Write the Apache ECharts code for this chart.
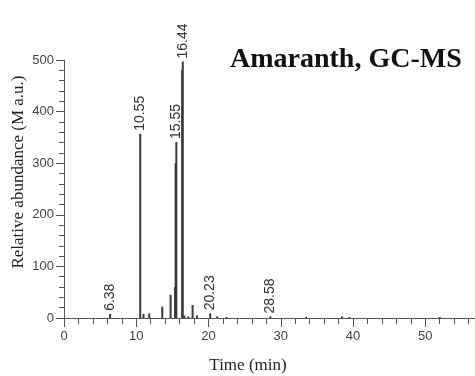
<!DOCTYPE html>
<html>
<head>
<meta charset="utf-8">
<script src="https://cdn.jsdelivr.net/npm/echarts@6/dist/echarts.min.js"></script>
<style>html,body{margin:0;padding:0;background:#fff}#c{width:475px;height:376px}</style>
</head>
<body>
<div id="c"></div>
<script>
// Labelled peaks: retention time (min) and abundance (M a.u.)
const labelledTimes = [6.38, 10.55, 15.55, 16.44, 20.23, 28.58];
const labelledHeights = [8, 357, 341, 497, 9, 3];
const labelledNames = ["6.38", "10.55", "15.55", "16.44", "20.23", "28.58"];
// Minor, unlabelled peaks
const minorTimes = [11.0, 11.8, 13.6, 14.75, 15.37, 15.45, 16.35, 16.65, 17.2, 17.8, 18.4, 21.2, 22.5, 33.5, 38.5, 39.5, 52.0];
const minorHeights = [8, 9, 22, 45, 60, 300, 480, 5, 3, 25, 5, 3, 2, 2, 3, 2, 2];
// Axis ticks
const xTicks = [0, 10, 20, 30, 40, 50, 60];
const yTicks = [0, 100, 200, 300, 400, 500];

const data = [];
for (let i = 0; i < minorTimes.length; i++) {
  data.push({ value: [minorTimes[i], minorHeights[i]], label: { show: false } });
}
for (let i = 0; i < labelledTimes.length; i++) {
  data.push({ value: [labelledTimes[i], labelledHeights[i]], name: labelledNames[i], label: { show: true } });
}

const chart = echarts.init(document.getElementById('c'), null, { renderer: 'canvas' });
const tickFont = '"Liberation Sans Narrow", "Arial Narrow", "Liberation Sans", sans-serif';
chart.setOption({
  animation: false,
  backgroundColor: '#fff',
  grid: { left: 64, width: 433.5, top: 60, height: 258, containLabel: false, outerBoundsMode: 'none' },
  xAxis: {
    type: 'value', min: xTicks[0], max: xTicks[xTicks.length - 1], interval: 10,
    axisLine: { show: true, lineStyle: { color: '#555', width: 1 } },
    axisTick: { show: true, length: 9, lineStyle: { color: '#555' } },
    minorTick: { show: true, splitNumber: 5, length: 6, lineStyle: { color: '#555' } },
    splitLine: { show: false },
    axisLabel: { color: '#444', fontFamily: tickFont, fontSize: 13, margin: 12 }
  },
  yAxis: {
    type: 'value', min: yTicks[0], max: yTicks[yTicks.length - 1], interval: 100,
    axisLine: { show: true, lineStyle: { color: '#555', width: 1 } },
    axisTick: { show: true, length: 8, lineStyle: { color: '#555' } },
    minorTick: { show: true, splitNumber: 5, length: 5, lineStyle: { color: '#555' } },
    splitLine: { show: false },
    axisLabel: { color: '#444', fontFamily: tickFont, fontSize: 13, margin: 10 }
  },
  series: [{
    type: 'bar',
    barWidth: 2,
    itemStyle: { color: '#3a3a3a' },
    label: {
      position: 'top', rotate: 90, align: 'left', verticalAlign: 'middle', distance: 3,
      color: '#333', fontFamily: '"Liberation Sans", Arial, sans-serif', fontSize: 14,
      formatter: p => p.name
    },
    data: data
  }],
  graphic: [
    { type: 'text', left: 230, top: 46,
      style: { text: 'Amaranth, GC-MS', font: 'bold 28px "Liberation Serif", "Times New Roman", serif', fill: '#111' } },
    { type: 'text', x: 19, y: 172, rotation: Math.PI / 2,
      style: { text: 'Relative abundance (M a.u.)', font: '17px "Liberation Serif", "Times New Roman", serif', fill: '#222', align: 'center', verticalAlign: 'middle' } },
    { type: 'text', x: 248, y: 366,
      style: { text: 'Time (min)', font: '17px "Liberation Serif", "Times New Roman", serif', fill: '#222', align: 'center', verticalAlign: 'middle' } }
  ]
});
</script>
</body>
</html>
